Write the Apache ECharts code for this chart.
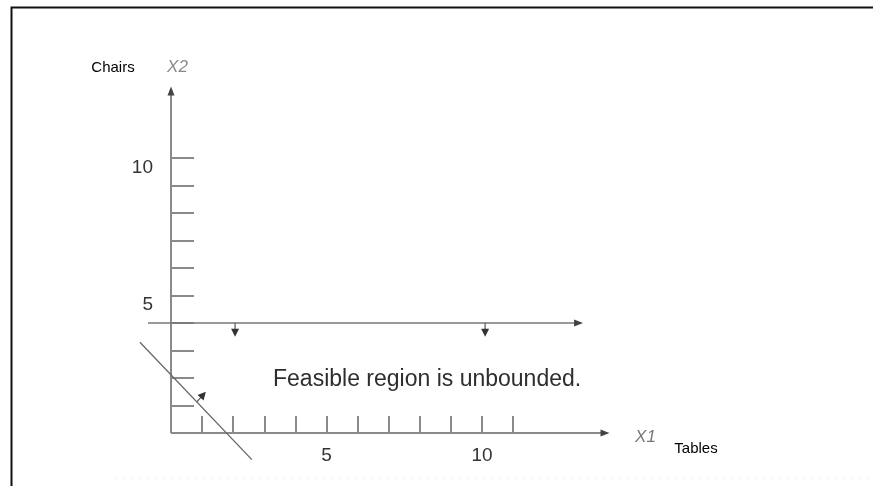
<!DOCTYPE html>
<html>
<head>
<meta charset="utf-8">
<script src="https://cdn.jsdelivr.net/npm/echarts@6/dist/echarts.min.js"></script>
<style>
html,body{margin:0;padding:0;background:#fff;}
#chart{width:873px;height:486px;}
</style>
</head>
<body>
<div id="chart"></div>
<script>
// ---- data ----
const xTicks = [1, 2, 3, 4, 5, 6, 7, 8, 9, 10, 11];
const xTickLabels = [5, 10];
const yTicks = [1, 2, 3, 4, 5, 6, 7, 8, 9, 10];
const yTickLabels = [5, 10];
// segments as [fromX1, fromX2, toX1, toX2]
const axisSegments = [[0, 0, 14.1, 0], [0, 0, 0, 12.6]];
const chairsConstraint = [[-0.74, 4, 13.25, 4]];
const sumConstraint = [[-1.0, 3.3, 2.6, -0.97]];
const directionArrows = [[2.06, 4, 2.06, 3.5], [10.1, 4, 10.1, 3.5], [0.84, 1.14, 1.12, 1.5]];
const x1Name = 'X1';
const x2Name = 'X2';
const x1Label = 'Tables';
const x2Label = 'Chairs';
const noteText = 'Feasible region is unbounded.';

const chart = echarts.init(document.getElementById('chart'));
const FONT = 'Liberation Sans, Arial, sans-serif';

function segmentRenderer(stroke, width, arrow, headLen, headHalf, headFill) {
  return function (params, api) {
    const p0 = api.coord([api.value(0), api.value(1)]);
    const p1 = api.coord([api.value(2), api.value(3)]);
    const children = [];
    let ex = p1[0], ey = p1[1];
    const dx = p1[0] - p0[0], dy = p1[1] - p0[1];
    const len = Math.sqrt(dx * dx + dy * dy) || 1;
    const ux = dx / len, uy = dy / len;
    if (arrow) {
      ex = p1[0] - ux * headLen * 0.6;
      ey = p1[1] - uy * headLen * 0.6;
    }
    children.push({
      type: 'line', silent: true,
      shape: { x1: p0[0], y1: p0[1], x2: ex, y2: ey },
      style: { stroke: stroke, lineWidth: width }
    });
    if (arrow) {
      const bx = p1[0] - ux * headLen, by = p1[1] - uy * headLen;
      const nx = -uy, ny = ux;
      children.push({
        type: 'polygon', silent: true,
        shape: { points: [[p1[0], p1[1]], [bx + nx * headHalf, by + ny * headHalf], [bx - nx * headHalf, by - ny * headHalf]] },
        style: { fill: headFill, stroke: null }
      });
    }
    return { type: 'group', children: children };
  };
}

const axisGray = '#8a8a8a';

const option = {
  animation: false,
  grid: { left: 171, top: 75.5, width: 466.5, height: 357.5, outerBoundsMode: 'none', containLabel: false },
  xAxis: {
    type: 'value', min: 0, max: 15, interval: 1,
    splitLine: { show: false },
    axisLine: { show: false },
    axisTick: { show: true, inside: true, length: 17, customValues: xTicks,
      lineStyle: { color: axisGray, width: 2 } },
    axisLabel: { show: true, customValues: xTickLabels, margin: 13,
      color: '#333', fontSize: 19, fontFamily: FONT,
      formatter: v => (xTickLabels.indexOf(v) >= 0 ? String(v) : '') }
  },
  yAxis: {
    type: 'value', min: 0, max: 13, interval: 1,
    splitLine: { show: false },
    axisLine: { show: false },
    axisTick: { show: true, inside: true, length: 23, customValues: yTicks,
      lineStyle: { color: axisGray, width: 2 } },
    axisLabel: { show: true, customValues: yTickLabels, margin: 18,
      color: '#333', fontSize: 19, fontFamily: FONT,
      verticalAlign: 'top',
      formatter: v => (yTickLabels.indexOf(v) >= 0 ? String(v) : '') }
  },
  series: [
    { type: 'custom', clip: false, silent: true, data: axisSegments,
      renderItem: segmentRenderer(axisGray, 2, true, 9, 3.5, '#444') },
    { type: 'custom', clip: false, silent: true, data: chairsConstraint,
      renderItem: segmentRenderer('#777', 1.6, true, 9, 3.5, '#444') },
    { type: 'custom', clip: false, silent: true, data: sumConstraint,
      renderItem: segmentRenderer('#666', 1.3, false, 0, 0, null) },
    { type: 'custom', clip: false, silent: true, data: directionArrows,
      renderItem: segmentRenderer('#555', 1.2, true, 8, 4, '#333') }
  ],
  graphic: [
    { type: 'polyline', silent: true,
      shape: { points: [[11.5, 486], [11.5, 7.5], [873, 7.5]] },
      style: { stroke: '#111', lineWidth: 2, fill: null } },
    { type: 'line', silent: true,
      shape: { x1: 115, y1: 478, x2: 873, y2: 478 },
      style: { stroke: '#eee', lineWidth: 1, lineDash: [2, 6] } },
    { type: 'text', x: 113, y: 67.5, silent: true,
      style: { text: x2Label, fill: '#000', fontSize: 15, fontFamily: FONT,
        align: 'center', verticalAlign: 'middle' } },
    { type: 'text', x: 177.5, y: 67, silent: true,
      style: { text: x2Name, fill: '#8a8a8a', fontSize: 17, fontStyle: 'italic', fontFamily: FONT,
        align: 'center', verticalAlign: 'middle' } },
    { type: 'text', x: 645.5, y: 437.5, silent: true,
      style: { text: x1Name, fill: '#777', fontSize: 17, fontStyle: 'italic', fontFamily: FONT,
        align: 'center', verticalAlign: 'middle' } },
    { type: 'text', x: 696, y: 449, silent: true,
      style: { text: x1Label, fill: '#000', fontSize: 15, fontFamily: FONT,
        align: 'center', verticalAlign: 'middle' } },
    { type: 'text', x: 273, y: 379.5, silent: true,
      style: { text: noteText, fill: '#2e2e2e', fontSize: 23, fontFamily: FONT,
        align: 'left', verticalAlign: 'middle' } }
  ]
};
chart.setOption(option);
</script>
</body>
</html>
